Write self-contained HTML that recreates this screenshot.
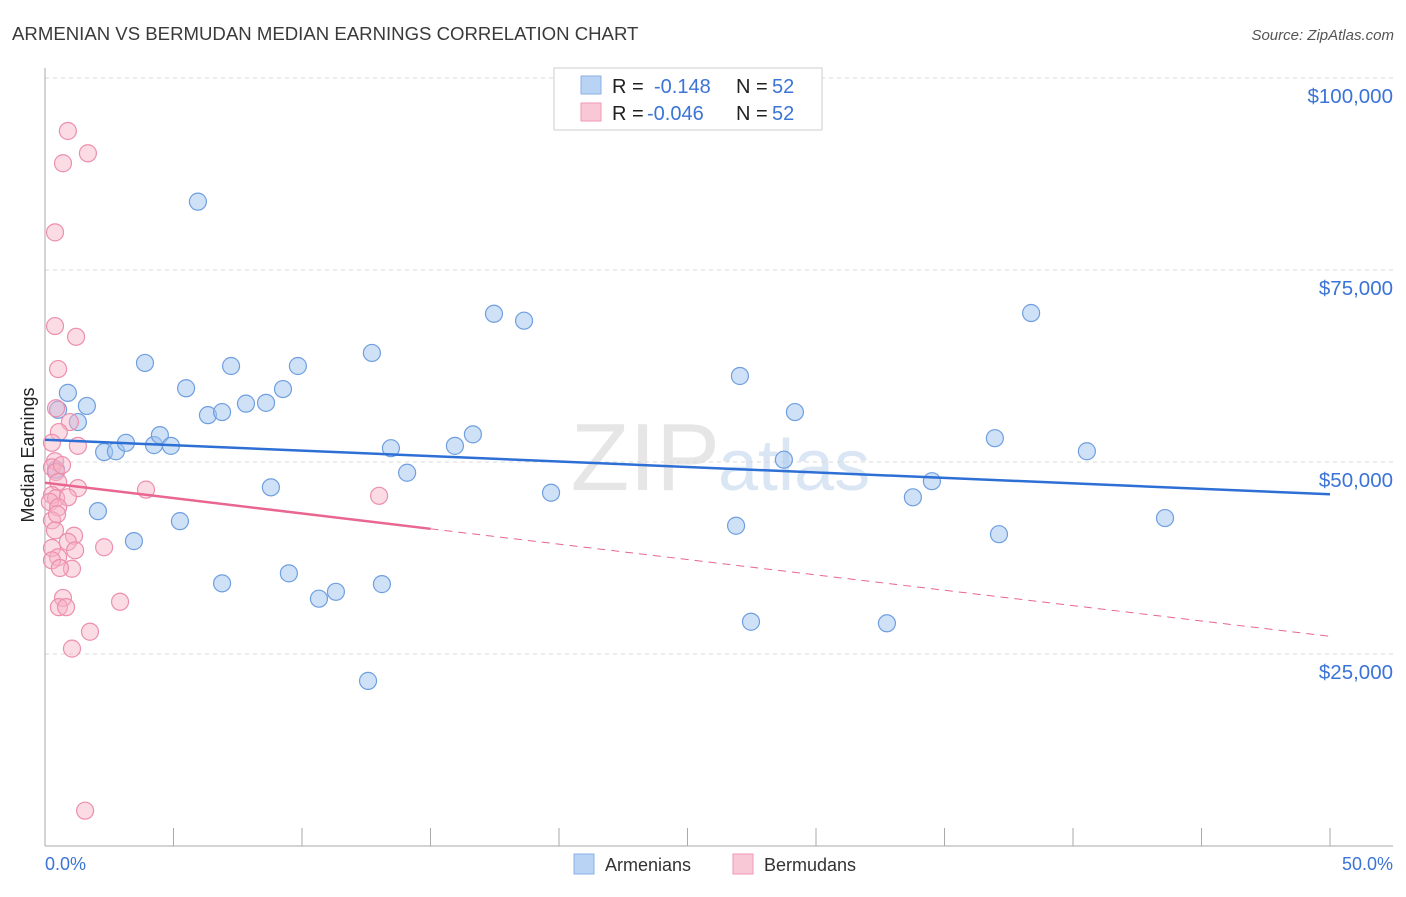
<!DOCTYPE html>
<html><head><meta charset="utf-8"><style>
body{margin:0;background:#fff;font-family:"Liberation Sans",sans-serif}
svg text{font-family:"Liberation Sans",sans-serif}
</style></head><body>
<svg id="chart" width="1406" height="892">
<text x="12" y="40" font-size="18.6" fill="#3a3a3a">ARMENIAN VS BERMUDAN MEDIAN EARNINGS CORRELATION CHART</text>
<text x="1394" y="40" font-size="15" font-style="italic" fill="#555" text-anchor="end">Source: ZipAtlas.com</text>
<text x="720" y="490" font-size="96" fill="#e6e6e6" text-anchor="end" font-family="Liberation Serif">ZIP</text>
<text x="718" y="490" font-size="72" fill="#dbe6f4">atlas</text>
<g id="grid"></g><g id="axes"></g><g id="pts"></g><g id="lines"></g>
<text transform="translate(34,455) rotate(-90)" font-size="18" fill="#222" text-anchor="middle">Median Earnings</text>
<text x="45" y="870" font-size="18" fill="#3b74d6">0.0%</text>
<text x="1393" y="870" font-size="18" fill="#3b74d6" text-anchor="end">50.0%</text>
<g>
<rect x="554" y="68" width="268" height="62" fill="#fff" stroke="#ccc"/>
<rect x="581" y="76" width="20" height="18" fill="#b9d3f4" stroke="#8ab0e6"/>
<rect x="581" y="103" width="20" height="18" fill="#f9c8d6" stroke="#ee9ab4"/>
<text x="612" y="93" font-size="20" fill="#222">R =</text>
<text x="654" y="93" font-size="20" fill="#3b74d6">-0.148</text>
<text x="736" y="93" font-size="20" fill="#222">N =</text>
<text x="772" y="93" font-size="20" fill="#3b74d6">52</text>
<text x="612" y="120" font-size="20" fill="#222">R =</text>
<text x="647" y="120" font-size="20" fill="#3b74d6">-0.046</text>
<text x="736" y="120" font-size="20" fill="#222">N =</text>
<text x="772" y="120" font-size="20" fill="#3b74d6">52</text>
</g>
<g>
<rect x="574" y="854" width="20" height="20" fill="#b9d3f4" stroke="#8ab0e6"/>
<text x="605" y="871" font-size="18" fill="#333">Armenians</text>
<rect x="733" y="854" width="20" height="20" fill="#f9c8d6" stroke="#ee9ab4"/>
<text x="764" y="871" font-size="18" fill="#333">Bermudans</text>
</g>
</svg>
<script>
const yTicks=[25000,50000,75000,100000];
const yTickLabels=["$25,000","$50,000","$75,000","$100,000"];
const xTicks=[0,5,10,15,20,25,30,35,40,45,50];
const armX=[0.51,0.89,1.63,1.28,2.30,2.76,3.15,2.06,3.46,3.89,4.24,4.47,4.90,5.25,5.49,5.95,6.34,6.89,6.89,7.24,7.82,8.60,8.79,9.26,9.49,9.84,10.66,11.32,12.57,12.72,13.11,13.46,14.09,15.95,16.65,17.47,18.64,19.69,26.89,27.04,27.47,28.75,29.18,32.76,33.77,34.51,36.96,37.12,38.37,40.54,43.58,0.43];
const armY=[56.8,59.0,57.3,55.2,51.3,51.4,52.5,43.6,39.7,62.9,52.2,53.5,52.1,42.3,59.6,83.9,56.1,56.5,34.2,62.5,57.6,57.7,46.7,59.5,35.5,62.5,32.2,33.1,21.5,64.2,34.1,51.8,48.6,52.1,53.6,69.3,68.4,46.0,41.7,61.2,29.2,50.3,56.5,29.0,45.4,47.5,53.1,40.6,69.4,51.4,42.7,49.0];
const berX=[0.89,0.70,1.67,0.39,0.39,1.21,0.51,0.43,0.97,0.54,1.28,0.27,0.39,0.27,0.43,0.51,1.28,0.27,0.43,0.89,0.19,0.51,0.27,0.39,1.13,0.89,0.27,1.17,2.30,0.51,0.27,1.05,0.58,3.93,13.00,0.70,0.54,0.82,2.92,1.75,1.05,1.56,0.47,0.66];
const berY=[93.1,88.9,90.2,79.9,67.7,66.3,62.1,57.0,55.2,53.9,52.1,52.5,50.1,49.3,48.7,47.4,46.6,45.7,45.3,45.4,44.8,44.1,42.4,41.1,40.4,39.6,38.8,38.5,38.9,37.6,37.2,36.1,36.2,46.4,45.6,32.3,31.1,31.1,31.8,27.9,25.7,4.6,43.2,49.6];
const armTrend=[52.9,45.8];
const berTrend=[47.3,27.3];
const berSolidEnd=15;
const NS="http://www.w3.org/2000/svg";
const sx=v=>45+v/50*1285;
const sy=v=>846-v/25000*192;
function mk(p,t,a){const e=document.createElementNS(NS,t);for(const k in a)e.setAttribute(k,a[k]);p.appendChild(e);return e;}
const grid=document.getElementById('grid'),axes=document.getElementById('axes'),pts=document.getElementById('pts'),lines=document.getElementById('lines');
yTicks.forEach((t,i)=>{
 const l=mk(grid,'line',{x1:45,x2:1393,y1:sy(t),y2:sy(t),stroke:'#d8d8d8','stroke-dasharray':'4,4'});
 
 
 const tx=mk(grid,'text',{x:1393,y:sy(t)+25,'font-size':20.5,fill:'#3b74d6','text-anchor':'end'});
 tx.textContent=yTickLabels[i];
 
 
});
const ax=mk(axes,'line',{x1:45,x2:45,y1:68,y2:846,stroke:'#aaa'});


const bx=mk(axes,'line',{x1:45,x2:1393,y1:846,y2:846,stroke:'#aaa'});


xTicks.forEach(t=>{
 const l=mk(axes,'line',{x1:sx(t),x2:sx(t),y1:828,y2:846,stroke:'#aaa'});
 
 
});
armX.forEach((x,i)=>{
 const c=mk(pts,'circle',{cx:sx(x),cy:sy(armY[i]*1000),r:8.5,fill:'rgba(160,195,238,0.5)',stroke:'#6f9fe0','stroke-width':1.2});
 
 
});
berX.forEach((x,i)=>{
 const c=mk(pts,'circle',{cx:sx(x),cy:sy(berY[i]*1000),r:8.5,fill:'rgba(246,178,198,0.45)',stroke:'#ec8fae','stroke-width':1.2});
 
 
});
const at=mk(lines,'line',{x1:sx(0),y1:sy(armTrend[0]*1000),x2:sx(50),y2:sy(armTrend[1]*1000),stroke:'#2d6fd4','stroke-width':2.5});


const bm=berTrend[0]+(berTrend[1]-berTrend[0])*berSolidEnd/50;
const bt=mk(lines,'line',{x1:sx(0),y1:sy(berTrend[0]*1000),x2:sx(berSolidEnd),y2:sy(bm*1000),stroke:'#e8668f','stroke-width':2.5});


const bd=mk(lines,'line',{x1:sx(berSolidEnd),y1:sy(bm*1000),x2:sx(50),y2:sy(berTrend[1]*1000),stroke:'#e8668f','stroke-width':1,'stroke-dasharray':'8,6'});


</script>
</body></html>
